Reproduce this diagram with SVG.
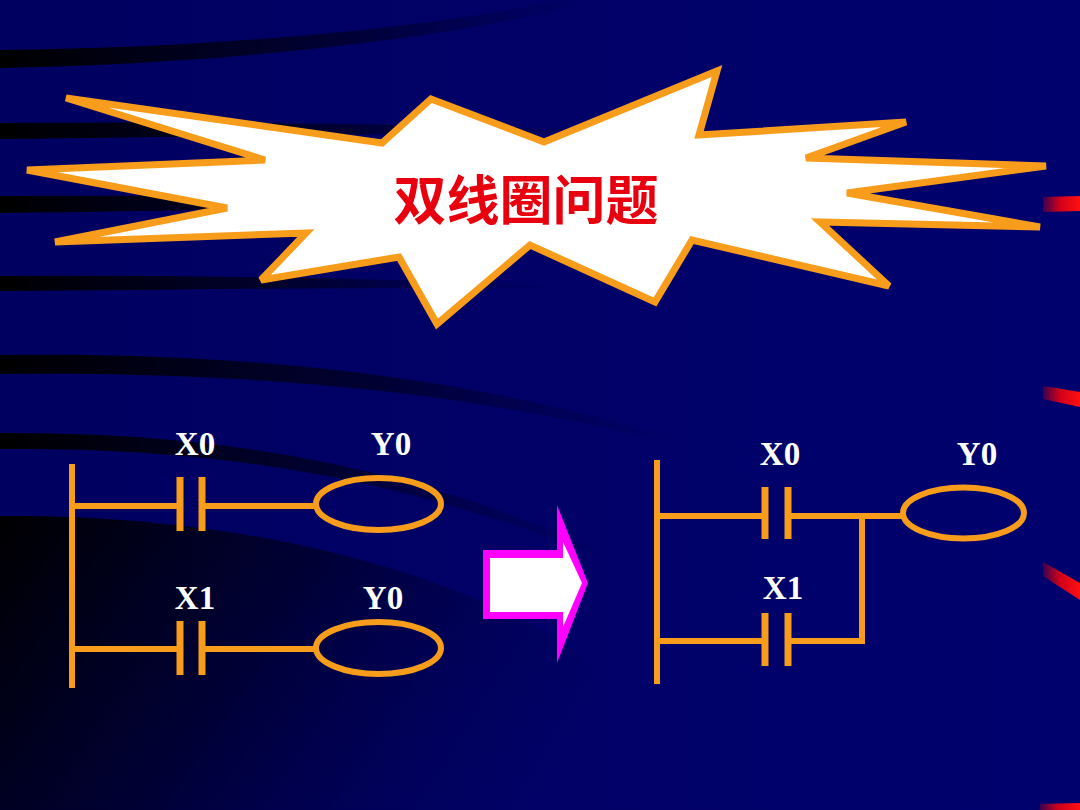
<svg xmlns="http://www.w3.org/2000/svg" width="1080" height="810" viewBox="0 0 1080 810">
  <defs>
    <linearGradient id="fadeDark" x1="0" y1="0" x2="1" y2="0">
      <stop offset="0" stop-color="#000000" stop-opacity="1"/>
      <stop offset="0.55" stop-color="#000010" stop-opacity="0.6"/>
      <stop offset="1" stop-color="#000030" stop-opacity="0"/>
    </linearGradient>
    <linearGradient id="bigDark" x1="0" y1="0" x2="1" y2="0.3">
      <stop offset="0" stop-color="#000000" stop-opacity="1"/>
      <stop offset="0.45" stop-color="#000020" stop-opacity="0.7"/>
      <stop offset="1" stop-color="#000050" stop-opacity="0"/>
    </linearGradient>
    <linearGradient id="redMark" x1="0" y1="0" x2="1" y2="0">
      <stop offset="0" stop-color="#3a0050"/>
      <stop offset="0.45" stop-color="#d0001a"/>
      <stop offset="1" stop-color="#ff1010"/>
    </linearGradient>
    <linearGradient id="bgGrad" x1="0" y1="0" x2="1" y2="0">
      <stop offset="0" stop-color="#000060"/>
      <stop offset="1" stop-color="#01016e"/>
    </linearGradient>
  </defs>
  <style>
    .wire { stroke: #F89C1C; stroke-width: 6; fill: none; stroke-linecap: butt; }
    .bar { stroke: #F89C1C; stroke-width: 7; fill: none; }
    .coil { stroke: #F89C1C; stroke-width: 6; fill: none; }
    .lbl { font-family: "Liberation Serif", "Times New Roman", serif; font-weight: bold; font-size: 33px; fill: #FFFFFF; text-anchor: middle; }
    .title { font-family: "Noto Sans CJK SC", "Noto Sans", sans-serif; font-weight: bold; font-size: 53px; fill: #E8000F; text-anchor: middle; }
    .mark { fill: url(#redMark); }
  </style>

  <g id="background">
    <rect x="0" y="0" width="1080" height="810" fill="url(#bgGrad)"/>
    <path d="M0,50 C200,48 420,30 560,0 L600,0 C450,40 220,64 0,68 Z" fill="url(#fadeDark)"/>
    <path d="M0,123 C200,121 420,124 620,130 L620,134 C420,132 200,137 0,139 Z" fill="url(#fadeDark)"/>
    <path d="M0,196 C200,195 400,197 560,202 L560,206 C400,205 200,211 0,213 Z" fill="url(#fadeDark)"/>
    <path d="M0,276 C200,275 400,279 560,285 L560,289 C400,286 200,290 0,291 Z" fill="url(#fadeDark)"/>
    <path d="M0,355 C220,352 450,370 680,440 L680,446 C450,385 220,372 0,374 Z" fill="url(#fadeDark)"/>
    <path d="M0,433 C200,432 400,458 620,560 L620,566 C400,472 200,447 0,449 Z" fill="url(#fadeDark)"/>
    <path d="M0,516 C220,514 420,560 560,640 C620,690 660,750 690,810 L0,810 Z" fill="url(#bigDark)"/>
  </g>

  <g id="red-marks">
    <polygon class="mark" points="1043,197 1080,196 1080,211 1043,212"/>
    <polygon class="mark" points="1043,386 1080,392 1080,407 1043,399"/>
    <polygon class="mark" points="1043,562 1080,583 1080,600 1043,576"/>
    <polygon class="mark" points="1040,804 1080,803 1080,810 1040,810"/>
  </g>

  <g id="title-burst">
    <polygon fill="#FFFFFF" stroke="#F89C1C" stroke-width="7" stroke-linejoin="miter" stroke-miterlimit="3"
      points="66,98 265,160 27,170 227,208 55,242 306,233 261,280 399,257 437,324 530,245 655,302 692,240 889,286 820,222 1040,227 847,193 1046,166 806,158 906,122 699,135 717,71 544,142 431,99 382,143"/>
    <text class="title" x="526" y="220">双线圈问题</text>
  </g>

  <g id="connectors">
    <!-- left ladder -->
    <line class="wire" x1="72" y1="464" x2="72" y2="688"/>
    <line class="wire" x1="72" y1="506" x2="180" y2="506"/>
    <line class="wire" x1="202" y1="506" x2="316" y2="506"/>
    <line class="wire" x1="72" y1="649" x2="180" y2="649"/>
    <line class="wire" x1="202" y1="649" x2="316" y2="649"/>
    <!-- right ladder -->
    <line class="wire" x1="657" y1="460" x2="657" y2="684"/>
    <line class="wire" x1="657" y1="516" x2="765" y2="516"/>
    <line class="wire" x1="788" y1="516" x2="903" y2="516"/>
    <polyline class="wire" points="862,516 862,641 788,641"/>
    <line class="wire" x1="657" y1="641" x2="765" y2="641"/>
  </g>

  <g id="left-X0">
    <line class="bar" x1="180" y1="477" x2="180" y2="531"/>
    <line class="bar" x1="202" y1="477" x2="202" y2="531"/>
    <text class="lbl" x="195" y="455">X0</text>
  </g>
  <g id="left-Y0-a">
    <ellipse class="coil" cx="378.5" cy="504" rx="62.5" ry="26"/>
    <text class="lbl" x="391" y="455">Y0</text>
  </g>
  <g id="left-X1">
    <line class="bar" x1="180" y1="621" x2="180" y2="675"/>
    <line class="bar" x1="202" y1="621" x2="202" y2="675"/>
    <text class="lbl" x="195" y="609">X1</text>
  </g>
  <g id="left-Y0-b">
    <ellipse class="coil" cx="378.5" cy="648" rx="62.5" ry="26"/>
    <text class="lbl" x="383" y="609">Y0</text>
  </g>

  <g id="arrow">
    <polygon fill="#FF00FF" points="483,550 557,550 557,505 588,583 557,663 557,619 483,619"/>
    <polygon fill="#FFFFFF" points="490,558 563,558 563,542 582,583 563,627 563,612 490,612"/>
  </g>

  <g id="right-X0">
    <line class="bar" x1="765" y1="487" x2="765" y2="539"/>
    <line class="bar" x1="788" y1="487" x2="788" y2="539"/>
    <text class="lbl" x="780" y="465">X0</text>
  </g>
  <g id="right-X1">
    <line class="bar" x1="765" y1="613" x2="765" y2="666"/>
    <line class="bar" x1="788" y1="613" x2="788" y2="666"/>
    <text class="lbl" x="783" y="599">X1</text>
  </g>
  <g id="right-Y0">
    <ellipse class="coil" cx="963.5" cy="513" rx="60.5" ry="25.5"/>
    <text class="lbl" x="977" y="465">Y0</text>
  </g>
</svg>
